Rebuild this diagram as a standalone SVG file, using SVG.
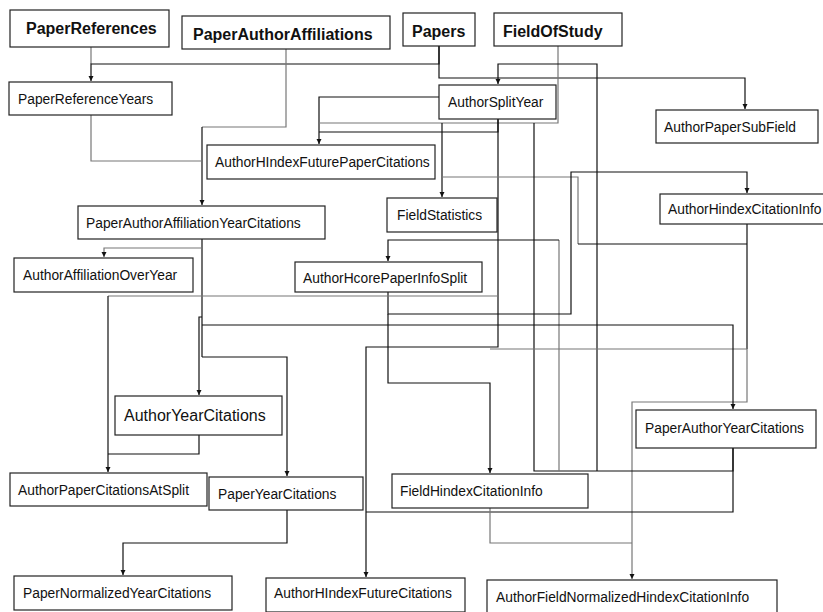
<svg xmlns="http://www.w3.org/2000/svg" width="823" height="612" viewBox="0 0 823 612">
<defs>
<style>
.n rect{fill:#fff;stroke:#222;stroke-width:1.2}
.n text{font-family:"Liberation Sans",Arial,sans-serif;font-size:13.8px;fill:#111}
.n text.b{font-weight:bold;font-size:16px}
.n text.m{font-size:16px}
.e path{fill:none;stroke:#111;stroke-width:1.2}
.e path.g{stroke:#777}
.e path.a{marker-end:url(#ar)}
</style>
<marker id="ar" markerUnits="userSpaceOnUse" markerWidth="7" markerHeight="7" refX="5" refY="3" orient="auto">
<path d="M0,0.5 L5,3 L0,5.5 Z" fill="#111"/>
</marker>
</defs>
<rect width="823" height="612" fill="#fff"/>
<g class="e" id="connectors">
<path class="g" d="M91,47 V64"/>
<path class="a" d="M439,46 V64 H91 V81"/>
<path class="a" d="M439,46 V78 H745 V109"/>
<path class="g" d="M286,49 V127 H202"/>
<path class="a" d="M202,127 V205"/>
<path class="g" d="M91,115 V161 H202"/>
<path class="a" d="M439,97 H319 V144"/>
<path class="g" d="M558,46 V123 H319"/>
<path d="M498,119 V132 H319"/>
<path class="a" d="M498,119 V347 H366 V577"/>
<path class="a" d="M442,123 V197"/>
<path class="g" d="M442,177 H578 V244"/>
<path d="M578,244 H747"/>
<path d="M747,224 V349"/>
<path class="g a" d="M747,349 V402 H632 V579"/>
<path d="M534,123 V471 H733 V448"/>
<path class="a" d="M597,471 V64 H498 V84"/>
<path class="g" d="M559,471 V240"/>
<path class="a" d="M559,240 H388 V261"/>
<path class="a" d="M388,292 V314 H571 V172 H747 V193"/>
<path class="a" d="M388,314 V383 H490 V473"/>
<path class="g" d="M490,349 H747"/>
<path d="M202,239 V357"/>
<path class="a" d="M202,317 H199 V395"/>
<path class="g a" d="M202,248 H104 V257"/>
<path class="g" d="M498,296 H108"/>
<path class="a" d="M108,296 V472"/>
<path d="M199,435 V454 H108"/>
<path class="a" d="M202,325 H733 V409"/>
<path class="a" d="M202,357 H287 V476"/>
<path class="a" d="M287,510 V543 H123 V575"/>
<path d="M733,448 V512 H366"/>
<path class="g" d="M490,508 V543 H632"/>
</g>
<g class="n" id="PaperReferences"><rect x="10" y="10" width="159" height="37"/><text class="b" x="26" y="34">PaperReferences</text></g>
<g class="n" id="PaperAuthorAffiliations"><rect x="182" y="16" width="208" height="33"/><text class="b" x="193" y="39.5">PaperAuthorAffiliations</text></g>
<g class="n" id="Papers"><rect x="403" y="13" width="72" height="33"/><text class="b" x="412" y="36.5">Papers</text></g>
<g class="n" id="FieldOfStudy"><rect x="494" y="13" width="128" height="33"/><text class="b" x="503" y="36.5">FieldOfStudy</text></g>
<g class="n" id="PaperReferenceYears"><rect x="9" y="82" width="163" height="33"/><text x="18" y="104">PaperReferenceYears</text></g>
<g class="n" id="AuthorSplitYear"><rect x="439" y="85" width="117" height="34"/><text x="448" y="107">AuthorSplitYear</text></g>
<g class="n" id="AuthorPaperSubField"><rect x="656" y="110" width="162" height="33"/><text x="664" y="132">AuthorPaperSubField</text></g>
<g class="n" id="AuthorHIndexFuturePaperCitations"><rect x="207" y="145" width="228" height="34"/><text x="215" y="167">AuthorHIndexFuturePaperCitations</text></g>
<g class="n" id="PaperAuthorAffiliationYearCitations"><rect x="78" y="206" width="247" height="33"/><text x="86" y="227.5">PaperAuthorAffiliationYearCitations</text></g>
<g class="n" id="FieldStatistics"><rect x="387" y="198" width="110" height="34"/><text x="397" y="219.5">FieldStatistics</text></g>
<g class="n" id="AuthorHindexCitationInfo"><rect x="660" y="194" width="170" height="30"/><text x="668" y="213.5">AuthorHindexCitationInfo</text></g>
<g class="n" id="AuthorAffiliationOverYear"><rect x="14" y="258" width="179" height="34"/><text x="23" y="280">AuthorAffiliationOverYear</text></g>
<g class="n" id="AuthorHcorePaperInfoSplit"><rect x="295" y="262" width="187" height="30"/><text x="303" y="282.5">AuthorHcorePaperInfoSplit</text></g>
<g class="n" id="AuthorYearCitations"><rect x="115" y="396" width="167" height="39"/><text class="m" x="124" y="421">AuthorYearCitations</text></g>
<g class="n" id="PaperAuthorYearCitations"><rect x="636" y="410" width="180" height="38"/><text x="645" y="433">PaperAuthorYearCitations</text></g>
<g class="n" id="AuthorPaperCitationsAtSplit"><rect x="10" y="473" width="197" height="33"/><text x="18" y="494.5">AuthorPaperCitationsAtSplit</text></g>
<g class="n" id="PaperYearCitations"><rect x="209" y="477" width="154" height="33"/><text x="218" y="498.5">PaperYearCitations</text></g>
<g class="n" id="FieldHindexCitationInfo"><rect x="392" y="474" width="196" height="34"/><text x="400" y="496">FieldHindexCitationInfo</text></g>
<g class="n" id="PaperNormalizedYearCitations"><rect x="14" y="576" width="218" height="34"/><text x="23" y="598">PaperNormalizedYearCitations</text></g>
<g class="n" id="AuthorHIndexFutureCitations"><rect x="266" y="578" width="199" height="34"/><text x="274" y="598">AuthorHIndexFutureCitations</text></g>
<g class="n" id="AuthorFieldNormalizedHindexCitationInfo"><rect x="487" y="580" width="290" height="34"/><text x="496" y="602">AuthorFieldNormalizedHindexCitationInfo</text></g>
</svg>
